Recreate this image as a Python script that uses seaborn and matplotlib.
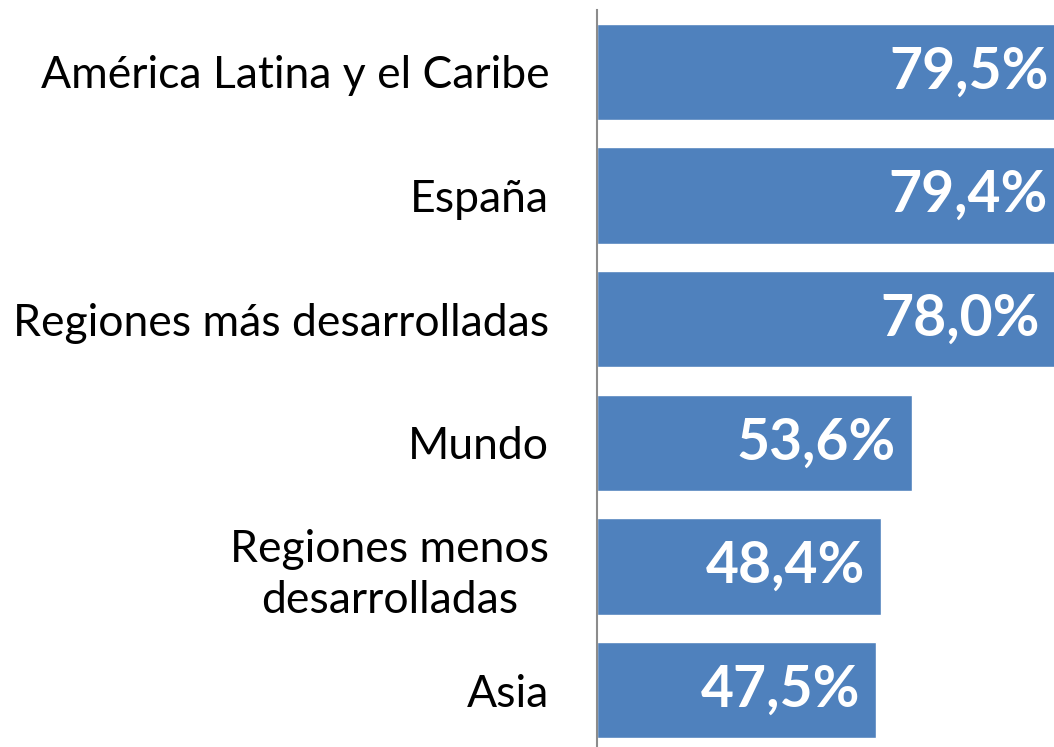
import matplotlib
matplotlib.use("Agg")
import matplotlib.pyplot as plt
import seaborn as sns

categories = ["América Latina y el Caribe", "España", "Regiones más desarrolladas",
              "Mundo", "Regiones menos\ndesarrolladas", "Asia"]
values = [79.5, 79.4, 78.0, 53.6, 48.4, 47.5]
value_labels = ["79,5%", "79,4%", "78,0%", "53,6%", "48,4%", "47,5%"]

sns.set_style("white")
plt.rcParams["font.family"] = ["Lato", "DejaVu Sans"]

W, H = 1054, 747
fig = plt.figure(figsize=(W / 100, H / 100), dpi=100)
left = 596.5 / W
ax = fig.add_axes([left, 0, 1 - left, 737 / H])

sns.barplot(x=values, y=categories, orient="h", color="#4F81BD", saturation=1,
            width=0.777, ax=ax)
ax.set_xlim(0, 77.7)
ax.set_ylim(5.46, -0.5)

for s in ["top", "right", "bottom"]:
    ax.spines[s].set_visible(False)
ax.spines["left"].set_color("#8C8C8C")
ax.spines["left"].set_linewidth(1.5)
ax.set_xticks([])
ax.set_xlabel("")
ax.set_ylabel("")
ax.tick_params(axis="y", length=0, pad=34, labelsize=32, labelcolor="black")
for t in ax.get_yticklabels():
    t.set_multialignment("center")
    t.set_linespacing(1.28)

for i, (v, lbl) in enumerate(zip(values, value_labels)):
    ax.annotate(lbl, xy=(v, i), xytext=(-16, 0), textcoords="offset pixels",
                ha="right", va="center", color="white", fontsize=41,
                fontweight="bold", annotation_clip=False)

fig.savefig("out.png", dpi=100)
